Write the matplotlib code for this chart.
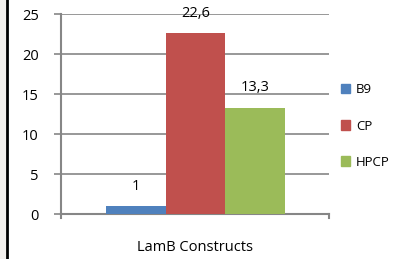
import numpy as np
import matplotlib
matplotlib.use("Agg")
import matplotlib.pyplot as plt
from matplotlib.patches import Rectangle
from matplotlib.lines import Line2D

# data
series = ["B9", "CP", "HPCP"]
values = [1.0, 22.6, 13.3]
labels = ["1", "22,6", "13,3"]
colors = ["#4F81BD", "#C0504D", "#9BBB59"]
category = "LamB Constructs"
yticks = [0, 5, 10, 15, 20, 25]

plt.rcParams['font.family'] = ['Open Sans', 'DejaVu Sans']
grid_col = "#868686"

fig = plt.figure(figsize=(3.94, 2.59), dpi=100)
ax = fig.add_axes([61/394, 1-214/259, (329-61)/394, 200/259])

x = np.arange(len(values))
bars = ax.bar(x, values, width=1.0, color=colors, zorder=3)
for xi, v, lab in zip(x, values, labels):
    ax.text(xi, v + 1.55, lab, ha="center", va="bottom", fontsize=10.5)

ax.set_xlim(-1.254, 3.237)
ax.set_ylim(0, 25)
ax.set_yticks(yticks)
ax.yaxis.grid(True, color=grid_col, linewidth=1.2, zorder=0)
ax.tick_params(axis="y", length=5, width=1.2, color=grid_col, pad=11, labelsize=10.5)
ax.set_xticks([])
for s in ["top", "right"]:
    ax.spines[s].set_visible(False)
for s in ["left", "bottom"]:
    ax.spines[s].set_color(grid_col)
    ax.spines[s].set_linewidth(1.5)
# end ticks on category axis
for xe in ax.get_xlim():
    ax.plot([xe, xe], [0, -0.5], color=grid_col, lw=1.5, clip_on=False)
ax.set_xlabel(category, fontsize=10.5, labelpad=19)

handles = [Rectangle((0, 0), 1, 1, color=c) for c in colors]
fig.legend(handles, series, loc="center left", bbox_to_anchor=(333/394, 1-126/259),
           frameon=False, fontsize=9.5, handlelength=0.7, handleheight=0.7,
           handletextpad=0.45, labelspacing=1.75, borderaxespad=0.2)

# left border as in the source screenshot
fig.add_artist(Rectangle((0, 0), 6/394, 1, transform=fig.transFigure, color="#F3F0ED", zorder=0))
fig.add_artist(Line2D([7/394, 7/394], [0, 1], transform=fig.transFigure, color="black", lw=2))

fig.savefig("out.png", dpi=100)
